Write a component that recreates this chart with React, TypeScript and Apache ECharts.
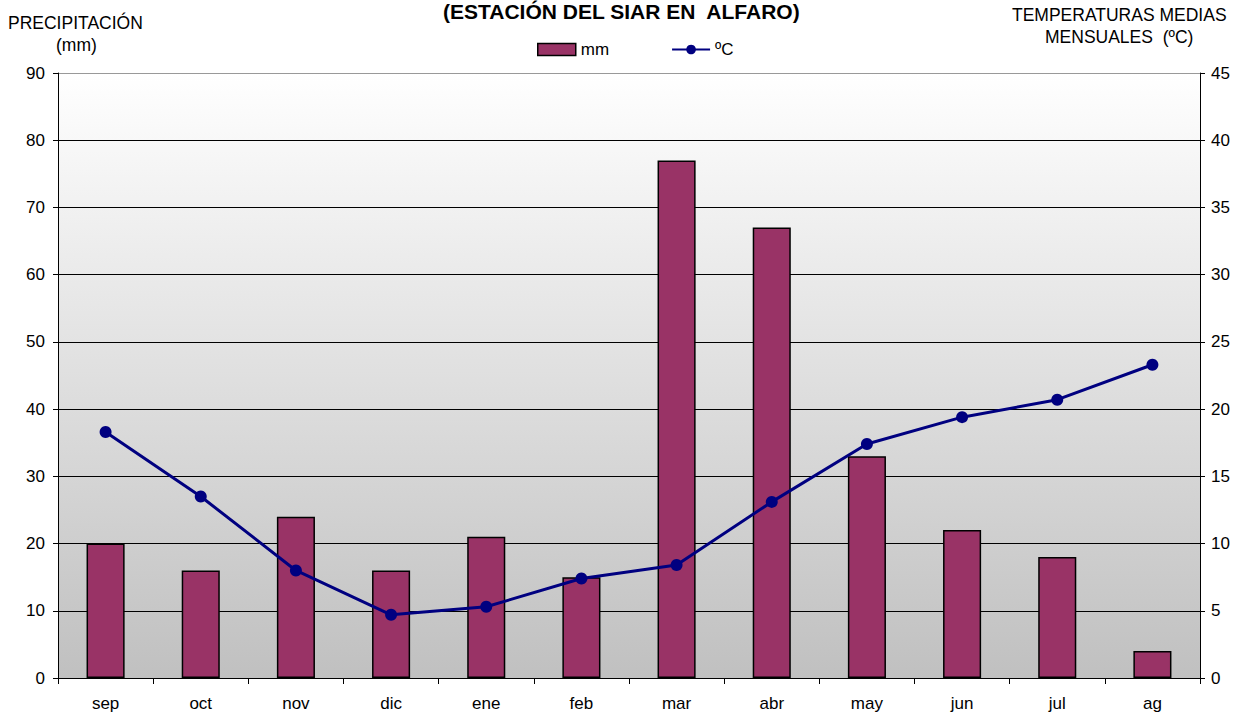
import React, { useEffect, useRef } from "react";
import * as echarts from "echarts";

const months = ["sep", "oct", "nov", "dic", "ene", "feb", "mar", "abr", "may", "jun", "jul", "ag"];
const precipitation = [20, 16, 24, 16, 21, 15, 77, 67, 33, 22, 18, 4];
const temperature = [18.3, 13.5, 8.0, 4.7, 5.3, 7.4, 8.4, 13.1, 17.4, 19.4, 20.7, 23.3];

const FONT = "'Liberation Sans', Arial, sans-serif";

export default function App() {
  const ref = useRef<HTMLDivElement>(null);
  useEffect(() => {
    if (!ref.current) return;
    const chart = echarts.init(ref.current, null, { renderer: "svg" });
    const splitColors = ["#000", "#000", "#000", "#000", "#000", "#000", "#000", "#000", "#000", "#999"];
    const txt = (text: string, x: number, y: number, font: string) => ({
      type: "text",
      x,
      y,
      style: { text, font, fill: "#000", verticalAlign: "middle", align: "left" },
    });
    chart.setOption({
      animation: false,
      textStyle: { fontFamily: FONT },
      graphic: [
        txt("(ESTACIÓN DEL SIAR EN  ALFARO)", 443, 11, `bold 21px ${FONT}`),
        txt("PRECIPITACIÓN", 8, 23, `17.5px ${FONT}`),
        txt("(mm)", 56, 45, `17.5px ${FONT}`),
        txt("TEMPERATURAS MEDIAS", 1012, 15, `17.5px ${FONT}`),
        txt("MENSUALES  (ºC)", 1045, 37, `17.5px ${FONT}`),
      ],
      legend: {
        left: 532,
        top: 36,
        itemGap: 62,
        itemWidth: 38,
        itemHeight: 12,
        textStyle: { fontFamily: FONT, fontSize: 17, color: "#000" },
        data: [
          { name: "mm", icon: "rect", itemStyle: { color: "#993366", borderColor: "#000", borderWidth: 1.5 } },
          { name: "ºC" },
        ],
      },
      grid: {
        left: 58,
        right: 46,
        top: 73,
        bottom: 37,
        show: true,
        borderWidth: 0,
        backgroundColor: new echarts.graphic.LinearGradient(0, 0, 0, 1, [
          { offset: 0, color: "#ffffff" },
          { offset: 1, color: "#c0c0c0" },
        ]),
      },
      xAxis: {
        type: "category",
        data: months,
        boundaryGap: true,
        axisLine: { lineStyle: { color: "#000", width: 1 } },
        axisTick: { show: true, length: 6, lineStyle: { color: "#000" } },
        axisLabel: { color: "#000", fontSize: 17, fontFamily: FONT, margin: 17 },
      },
      yAxis: [
        {
          type: "value",
          min: 0,
          max: 90,
          interval: 10,
          axisLine: { show: true, lineStyle: { color: "#000" } },
          axisTick: { show: true, length: 5, lineStyle: { color: "#000" } },
          axisLabel: { color: "#000", fontSize: 17, fontFamily: FONT, margin: 13 },
          splitLine: { show: true, lineStyle: { color: splitColors, width: 1 } },
        },
        {
          type: "value",
          min: 0,
          max: 45,
          interval: 5,
          position: "right",
          axisLine: { show: true, lineStyle: { color: "#000" } },
          axisTick: { show: true, length: 5, lineStyle: { color: "#000" } },
          axisLabel: { color: "#000", fontSize: 17, fontFamily: FONT, margin: 11 },
          splitLine: { show: false },
        },
      ],
      series: [
        {
          name: "mm",
          type: "bar",
          data: precipitation,
          barWidth: "40%",
          itemStyle: { color: "#993366", borderColor: "#000", borderWidth: 1.5 },
        },
        {
          name: "ºC",
          type: "line",
          yAxisIndex: 1,
          data: temperature,
          symbol: "circle",
          symbolSize: 12,
          lineStyle: { color: "#000080", width: 3 },
          itemStyle: { color: "#000080" },
        },
      ],
    });
    return () => chart.dispose();
  }, []);
  return <div ref={ref} style={{ width: 1246, height: 715, position: "absolute", left: 0, top: 0 }} />;
}
